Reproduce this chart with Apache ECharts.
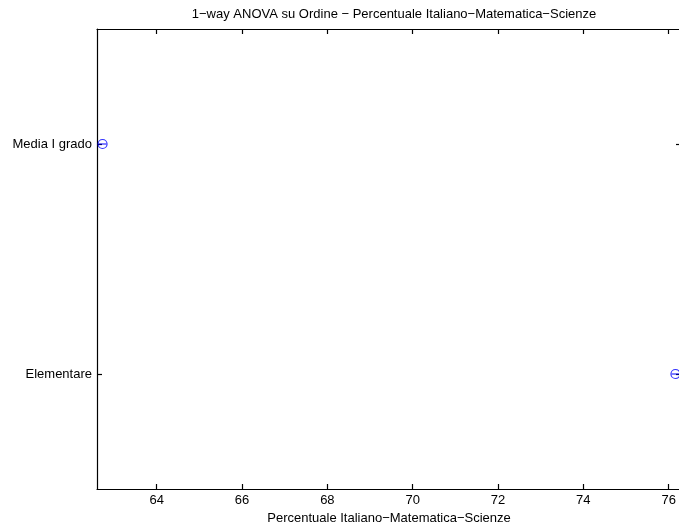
<!DOCTYPE html>
<html>
<head>
<meta charset="utf-8">
<script src="https://cdn.jsdelivr.net/npm/echarts@6/dist/echarts.min.js"></script>
<style>html,body{margin:0;padding:0;background:#fff;}#c{width:679px;height:525px;}</style>
</head>
<body>
<div id="c"></div>
<script>
var groups = ['Elementare', 'Media I grado'];
var groupPos = [1, 2];
var means = [76.16, 62.73];
var ciLow = [76.07, 62.64];
var ciHigh = [76.25, 62.82];
var xTicks = [64, 66, 68, 70, 72, 74, 76];
var xMin = 62.6, xMax = 76.29;
var titleText = '1\u2212way ANOVA su Ordine \u2212 Percentuale Italiano\u2212Matematica\u2212Scienze';
var xName = 'Percentuale Italiano\u2212Matematica\u2212Scienze';

var font = 'Liberation Sans, Arial, Helvetica, sans-serif';
var fs = 13;
var chart = echarts.init(document.getElementById('c'), null, {renderer: 'canvas'});

var meanData = means.map(function (m, i) { return [m, groupPos[i]]; });
var lineData = [];
for (var i = 0; i < groups.length; i++) {
  lineData.push([ciLow[i], groupPos[i]]);
  lineData.push([ciHigh[i], groupPos[i]]);
  lineData.push([null, null]);
}

var axisLineStyle = {color: '#000', width: 1.2};
var common = {
  axisLine: {show: true, onZero: false, lineStyle: axisLineStyle},
  splitLine: {show: false}
};

chart.setOption({
  animation: false,
  backgroundColor: '#fff',
  title: {
    text: titleText,
    left: 389, top: 3, textAlign: 'center',
    textStyle: {fontFamily: font, fontSize: fs, fontWeight: 'normal', color: '#000'}
  },
  grid: {left: 97, top: 29, width: 584, height: 460, containLabel: false, outerBoundsMode: 'none'},
  xAxis: [
    Object.assign({}, common, {
      type: 'value', position: 'bottom', min: xMin, max: xMax,
      name: xName, nameLocation: 'middle', nameGap: 17,
      nameTextStyle: {fontFamily: font, fontSize: fs, color: '#000'},
      axisTick: {show: true, inside: true, length: 5, customValues: xTicks, lineStyle: axisLineStyle},
      axisLabel: {show: true, margin: 5, customValues: xTicks, fontFamily: font, fontSize: fs, color: '#000'}
    }),
    Object.assign({}, common, {
      type: 'value', position: 'top', min: xMin, max: xMax,
      axisTick: {show: true, inside: true, length: 5, customValues: xTicks, lineStyle: axisLineStyle},
      axisLabel: {show: false}
    })
  ],
  yAxis: [
    Object.assign({}, common, {
      type: 'value', position: 'left', min: 0.5, max: 2.5,
      axisTick: {show: true, inside: true, length: 5, customValues: groupPos, lineStyle: axisLineStyle},
      axisLabel: {
        show: true, margin: 5, customValues: groupPos, fontFamily: font, fontSize: fs, color: '#000',
        formatter: function (v) { var k = groupPos.indexOf(v); return k >= 0 ? groups[k] : ''; }
      }
    }),
    Object.assign({}, common, {
      type: 'value', position: 'right', min: 0.5, max: 2.5,
      axisTick: {show: true, inside: true, length: 5, customValues: groupPos, lineStyle: axisLineStyle},
      axisLabel: {show: false}
    })
  ],
  series: [
    {
      type: 'line', xAxisIndex: 0, yAxisIndex: 0, data: lineData,
      connectNulls: false, showSymbol: false, symbol: 'none',
      lineStyle: {color: '#0000ff', width: 1}, clip: false, silent: true
    },
    {
      type: 'scatter', xAxisIndex: 0, yAxisIndex: 0, data: meanData,
      symbol: 'circle', symbolSize: 9, clip: false,
      itemStyle: {color: 'rgba(0,0,0,0)', borderColor: '#0000ff', borderWidth: 1.2}
    }
  ]
});
</script>
</body>
</html>
